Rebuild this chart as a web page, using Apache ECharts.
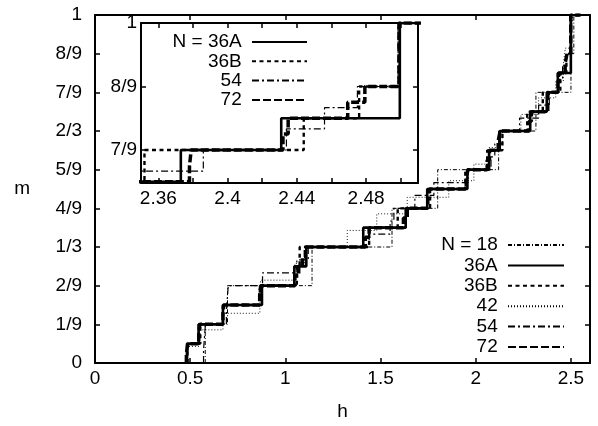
<!DOCTYPE html>
<html>
<head>
<meta charset="utf-8">
<script src="https://cdn.jsdelivr.net/npm/echarts@6/dist/echarts.min.js"></script>
<style>
  html, body { margin: 0; padding: 0; background: #fff; }
  #chart { width: 598px; height: 426px; }
</style>
</head>
<body>
<div id="chart"></div>
<script>
// tick positions and labels
var hTicks = [0, 0.5, 1, 1.5, 2, 2.5];
var mTickLabels = ['0', '1/9', '2/9', '1/3', '4/9', '5/9', '2/3', '7/9', '8/9', '1'];
var insetHTicks = [2.36, 2.38, 2.40, 2.42, 2.44, 2.46, 2.48, 2.50];
var insetHLabels = [2.36, 2.40, 2.44, 2.48];
var insetMLabels = ['7/9', '8/9', '1'];

// fields h where m jumps, and the new m as numerator over N/2
var h18 = [0.579, 0.696, 1.140, 1.560, 1.800, 2.120, 2.316, 2.500, 2.515];
var k18 = [1, 2, 3, 4, 5, 6, 7, 8, 9];

var h36A = [0.483, 0.544, 0.672, 0.877, 1.047, 1.110, 1.409, 1.632, 1.745, 1.956, 2.070, 2.126, 2.286, 2.373, 2.431, 2.4995];
var k36A = [1, 2, 3, 4, 5, 6, 7, 8, 9, 10, 11, 12, 13, 14, 15, 18];

var h36B = [0.486, 0.553, 0.672, 0.866, 1.060, 1.075, 1.440, 1.590, 1.760, 1.945, 2.060, 2.140, 2.270, 2.352, 2.444, 2.476, 2.4995];
var k36B = [1, 2, 3, 4, 5, 6, 7, 8, 9, 10, 11, 12, 13, 14, 15, 16, 18];

var h42 = [0.486, 0.548, 0.672, 0.866, 0.870, 1.050, 1.100, 1.325, 1.480, 1.640, 1.858, 1.990, 2.070, 2.130, 2.237, 2.330, 2.420, 2.460, 2.470, 2.500, 2.510];
var k42 = [1, 2, 3, 4, 5, 6, 7, 8, 9, 10, 11, 12, 13, 14, 15, 16, 17, 18, 19, 20, 21];

var h54 = [0.570, 0.575, 0.580, 0.690, 0.695, 0.700, 0.880, 1.060, 1.120, 1.440, 1.550, 1.570, 1.680, 1.780, 1.960, 2.080, 2.100, 2.140, 2.230, 2.330, 2.386, 2.434, 2.456, 2.475, 2.4985];
var k54 = [1, 2, 3, 4, 5, 6, 7, 8, 9, 10, 11, 12, 13, 14, 15, 16, 17, 18, 19, 20, 21, 22, 23, 24, 27];

var h72 = [0.480, 0.488, 0.545, 0.550, 0.672, 0.676, 0.865, 0.870, 1.050, 1.070, 1.090, 1.105, 1.420, 1.440, 1.620, 1.640, 1.748, 1.756, 1.950, 1.958, 2.060, 2.072, 2.118, 2.128, 2.280, 2.292, 2.378, 2.379, 2.432, 2.435, 2.4694, 2.4793, 2.499];
var k72 = [1, 2, 3, 4, 5, 6, 7, 8, 9, 10, 11, 12, 13, 14, 15, 16, 17, 18, 19, 20, 21, 22, 23, 24, 25, 26, 27, 28, 29, 30, 31, 32, 36];

var hEnd = 2.55;

var FONT = '"Liberation Sans", Arial, Helvetica, sans-serif';

function steps(h, k, den) {
  var pts = [[h[0], 0]];
  for (var i = 0; i < h.length; i++) {
    pts.push([h[i], k[i] / den]);
  }
  pts.push([hEnd, 1]);
  return pts;
}

var curves = [
  { name: '18', data: steps(h18, k18, 9), style: { color: '#000', width: 1, type: [4, 2, 1, 2] }, inset: false },
  { name: '36A', data: steps(h36A, k36A, 18), style: { color: '#000', width: 2.6, type: 'solid' }, inset: true },
  { name: '36B', data: steps(h36B, k36B, 18), style: { color: '#000', width: 2.4, type: [4, 3.5] }, inset: true },
  { name: '42', data: steps(h42, k42, 21), style: { color: '#000', width: 0.9, type: [1, 2] }, inset: false },
  { name: '54', data: steps(h54, k54, 27), style: { color: '#000', width: 1.2, type: [7, 3, 2, 3] }, inset: true },
  { name: '72', data: steps(h72, k72, 36), style: { color: '#000', width: 3.5, type: [8, 3] }, inset: true }
];

var mTicks = [];
for (var i = 0; i < mTickLabels.length; i++) mTicks.push(i / 9);
var insetMTicks = [7 / 9, 8 / 9, 1];

var lineBlack = { color: '#000', width: 2 };
var tickBlack = { color: '#000', width: 1.5 };
var labelStyle = { color: '#000', fontSize: 19, fontFamily: FONT };

function hAxis(grid, pos, min, max, ticks, labels, fmt, z) {
  return {
    type: 'value', gridIndex: grid, position: pos, min: min, max: max, z: z,
    axisLine: { show: true, onZero: false, lineStyle: lineBlack },
    axisTick: { show: true, inside: true, length: 5, customValues: ticks, lineStyle: tickBlack },
    axisLabel: labels ? Object.assign({ customValues: labels, margin: 6, formatter: fmt }, labelStyle) : { show: false },
    splitLine: { show: false }
  };
}

function mAxis(grid, pos, min, max, ticks, fmt, margin, z) {
  return {
    type: 'value', gridIndex: grid, position: pos, min: min, max: max, z: z,
    axisLine: { show: true, onZero: false, lineStyle: lineBlack },
    axisTick: { show: true, inside: true, length: 5, customValues: ticks, lineStyle: tickBlack },
    axisLabel: fmt ? Object.assign({ customValues: ticks, margin: margin, formatter: fmt }, labelStyle) : { show: false },
    splitLine: { show: false }
  };
}

var xMain = hAxis(0, 'bottom', 0, 2.6, hTicks, hTicks, function (v) { return String(v); }, 0);
xMain.name = 'h';
xMain.nameLocation = 'middle';
xMain.nameGap = 39;
xMain.nameTextStyle = labelStyle;

var yMain = mAxis(0, 'left', 0, 1, mTicks, function (v) { return mTickLabels[Math.round(v * 9)]; }, 13, 0);
yMain.name = 'm';
yMain.nameLocation = 'middle';
yMain.nameRotate = 0;
yMain.nameGap = 65;
yMain.nameTextStyle = labelStyle;

var series = [];
curves.forEach(function (c) {
  series.push({
    name: c.name, type: 'line', xAxisIndex: 0, yAxisIndex: 0,
    step: 'end', showSymbol: false, symbol: 'none', silent: true,
    itemStyle: { color: '#000' },
    lineStyle: c.style, data: c.data, z: 2
  });
});
curves.forEach(function (c) {
  if (!c.inset) return;
  series.push({
    name: c.name, type: 'line', xAxisIndex: 2, yAxisIndex: 2,
    step: 'end', showSymbol: false, symbol: 'none', silent: true, clip: true,
    itemStyle: { color: '#000' },
    lineStyle: c.style, data: c.data, z: 12
  });
});

// legend: text right-aligned, line sample to the right of it
var noSymbol = { color: 'rgba(0,0,0,0)', borderWidth: 0, opacity: 0 };

var chart = echarts.init(document.getElementById('chart'), null, { renderer: 'canvas' });
chart.setOption({
  animation: false,
  backgroundColor: '#fff',
  grid: [
    { left: 95, top: 15, width: 495, height: 349, show: false },
    { left: 141, top: 23, width: 277, height: 160, show: true, backgroundColor: '#fff', borderWidth: 0, z: 10 }
  ],
  xAxis: [
    xMain,
    hAxis(0, 'top', 0, 2.6, hTicks, null, null, 0),
    hAxis(1, 'bottom', 2.35, 2.51, insetHTicks, insetHLabels, function (v) { return v.toFixed(2).replace(/0$/, ''); }, 11),
    hAxis(1, 'top', 2.35, 2.51, insetHTicks, null, null, 11)
  ],
  yAxis: [
    yMain,
    mAxis(0, 'right', 0, 1, mTicks, null, 0, 0),
    mAxis(1, 'left', 0.72, 1, insetMTicks, function (v) { return insetMLabels[Math.round(v * 9) - 7]; }, 4, 11),
    mAxis(1, 'right', 0.72, 1, insetMTicks, null, 0, 11)
  ],
  legend: [
    {
      data: ['18', '36A', '36B', '42', '54', '72'],
      formatter: function (name) { return (name === '18' ? 'N = 18' : name) + ' '; },
      orient: 'vertical', align: 'right', right: 33, top: 235.5, padding: 0,
      itemWidth: 56, itemHeight: 10, itemGap: 1.4, selectedMode: false,
      itemStyle: noSymbol,
      textStyle: labelStyle
    },
    {
      data: ['36A', '36B', '54', '72'],
      formatter: function (name) { return (name === '36A' ? 'N = 36A' : name) + ' '; },
      orient: 'vertical', align: 'right', right: 290, top: 32.5, padding: 0,
      itemWidth: 55, itemHeight: 10, itemGap: 0.3, selectedMode: false, z: 13,
      itemStyle: noSymbol,
      textStyle: labelStyle
    }
  ],
  series: series
});
</script>
</body>
</html>
